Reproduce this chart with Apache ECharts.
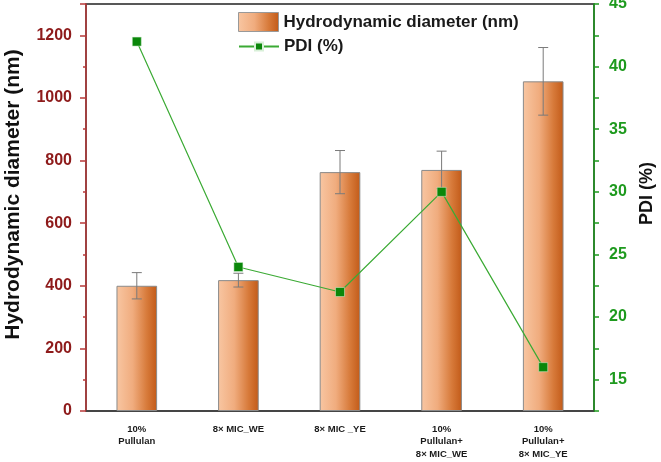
<!DOCTYPE html>
<html>
<head>
<meta charset="utf-8">
<script src="https://cdn.jsdelivr.net/npm/echarts@6/dist/echarts.min.js"></script>
<style>html,body{margin:0;padding:0;background:#fff;}#c{width:661px;height:462px;}</style>
</head>
<body>
<div id="c"></div>
<script>
const categories = ['10%\nPullulan', '8× MIC_WE', '8× MIC _YE', '10%\nPullulan+\n8× MIC_WE', '10%\nPullulan+\n8× MIC_YE'];
const diameter = [400, 418, 763, 770, 1053];
const diameterErr = [42, 22, 69, 60, 108];
const pdi = [42.0, 24.0, 22.0, 30.0, 16.0];
const leftTicks = [0, 200, 400, 600, 800, 1000, 1200];
const rightTicks = [15, 20, 25, 30, 35, 40, 45];

const chart = echarts.init(document.getElementById('c'));
const font = 'Liberation Sans, Arial, sans-serif';
const barGrad = new echarts.graphic.LinearGradient(0, 0, 1, 0, [
  {offset: 0, color: '#F8C6A2'},
  {offset: 0.4, color: '#F0AC7E'},
  {offset: 0.75, color: '#D77A3A'},
  {offset: 1, color: '#C25A18'}
]);
const errData = categories.map((c, i) => [i, diameter[i] - diameterErr[i], diameter[i] + diameterErr[i]]);

chart.setOption({
  animation: false,
  textStyle: {fontFamily: font},
  grid: {left: 86, right: 67, top: 4, bottom: 51, containLabel: false, outerBoundsMode: 'none',
         show: true, borderColor: '#222', borderWidth: 1.5, backgroundColor: 'transparent'},
  legend: [
    {data: [{name: 'Hydrodynamic diameter (nm)', icon: 'rect', itemStyle: {color: barGrad, borderColor: '#999', borderWidth: 1}}],
     left: 238, top: 12, padding: 0, itemWidth: 40, itemHeight: 19, itemGap: 5,
     textStyle: {fontSize: 17, fontWeight: 'bold', color: '#1a1a1a', fontFamily: font}},
    {data: ['PDI (%)'], left: 238, top: 38, padding: 0, itemWidth: 40, itemHeight: 10, itemGap: 5,
     textStyle: {fontSize: 17, fontWeight: 'bold', color: '#1a1a1a', fontFamily: font}}
  ],
  xAxis: [
    {type: 'category', data: categories, boundaryGap: true,
     axisLine: {lineStyle: {color: '#404040', width: 1.5}},
     axisTick: {alignWithLabel: true, length: 7, lineStyle: {color: '#404040', width: 1.5}},
     axisLabel: {fontSize: 9.5, fontWeight: 'bold', color: '#1a1a1a', lineHeight: 12.5, margin: 12, interval: 0, fontFamily: font}},
    {type: 'category', data: categories, boundaryGap: true, position: 'bottom',
     axisLine: {show: false},
     axisTick: {length: 4, lineStyle: {color: '#404040', width: 1.5}},
     axisLabel: {show: false}}
  ],
  yAxis: [
    {type: 'value', min: 0, max: 1300, interval: 200, position: 'left',
     name: 'Hydrodynamic diameter (nm)', nameLocation: 'middle', nameGap: 62, nameRotate: 90,
     nameTextStyle: {fontSize: 21, fontWeight: 'bold', color: '#111', fontFamily: font, padding: [0, 0, 0, 26]},
     axisLine: {show: true, lineStyle: {color: '#B83A3A', width: 1.5}},
     axisTick: {show: true, length: 6, lineStyle: {color: '#B83A3A', width: 1.5}},
     minorTick: {show: true, splitNumber: 2, length: 3, lineStyle: {color: '#B83A3A', width: 1.5}},
     splitLine: {show: false},
     axisLabel: {fontSize: 16, fontWeight: 'bold', color: '#8E1B1B', margin: 14, fontFamily: font,
       formatter: v => leftTicks.includes(v) ? String(v) : ''}},
    {type: 'value', min: 12.5, max: 45, interval: 2.5, position: 'right',
     name: 'PDI (%)', nameLocation: 'middle', nameGap: 44, nameRotate: 90,
     nameTextStyle: {fontSize: 18, fontWeight: 'bold', color: '#111', fontFamily: font, padding: [0, 0, 0, 28]},
     axisLine: {show: true, lineStyle: {color: '#1E9A1E', width: 1.5}},
     axisTick: {show: true, length: 5, lineStyle: {color: '#1E9A1E', width: 1.5}},
     splitLine: {show: false},
     axisLabel: {fontSize: 16, fontWeight: 'bold', color: '#1E9A1E', margin: 15, fontFamily: font, padding: [6, 0, 0, 0],
       formatter: v => rightTicks.includes(v) ? String(v) : ''}}
  ],
  series: [
    {name: 'Hydrodynamic diameter (nm)', type: 'bar', data: diameter, barWidth: '40%', yAxisIndex: 0, xAxisIndex: 0,
     itemStyle: {color: barGrad, borderColor: '#8a8a8a', borderWidth: 1}, z: 2},
    {name: 'err', type: 'custom', data: errData, yAxisIndex: 0, xAxisIndex: 0, z: 3,
     renderItem: function (params, api) {
       const x = api.value(0);
       const lo = api.coord([x, api.value(1)]);
       const hi = api.coord([x, api.value(2)]);
       const w = 5;
       const st = {stroke: '#7a7a7a', lineWidth: 1};
       return {type: 'group', children: [
         {type: 'line', shape: {x1: lo[0], y1: lo[1], x2: hi[0], y2: hi[1]}, style: st},
         {type: 'line', shape: {x1: lo[0] - w, y1: lo[1], x2: lo[0] + w, y2: lo[1]}, style: st},
         {type: 'line', shape: {x1: hi[0] - w, y1: hi[1], x2: hi[0] + w, y2: hi[1]}, style: st}
       ]};
     }},
    {name: 'PDI (%)', type: 'line', data: pdi, yAxisIndex: 1, xAxisIndex: 0, z: 5,
     symbol: 'rect', symbolSize: 9,
     lineStyle: {color: '#3BAA34', width: 1.2},
     itemStyle: {color: '#0A870A', borderColor: '#d8f0d8', borderWidth: 0.5}}
  ]
});
</script>
</body>
</html>
